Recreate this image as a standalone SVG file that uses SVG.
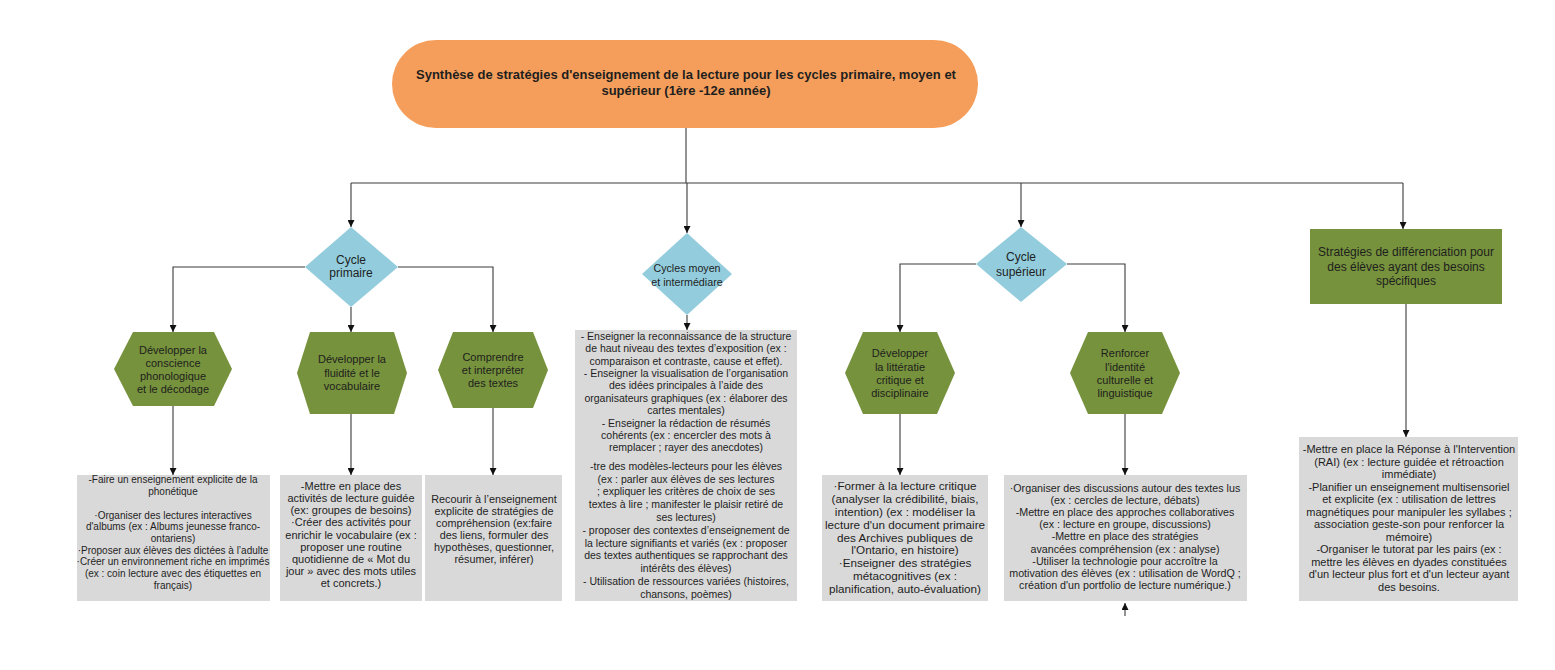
<svg xmlns="http://www.w3.org/2000/svg" width="1555" height="670" viewBox="0 0 1555 670">
<defs>
<style>
text{font-family:"Liberation Sans",Arial,sans-serif;fill:#1e1e1e;text-anchor:middle}
.title{font-size:13px;font-weight:bold}
.dia{fill:#93CDDD}
.hex{fill:#76923C}
.box{fill:#D9D9D9}
.conn{fill:none;stroke:#3a3a3a;stroke-width:1.1;marker-end:url(#arr)}
.line{fill:none;stroke:#3a3a3a;stroke-width:1.1}
</style>
<marker id="arr" markerUnits="userSpaceOnUse" markerWidth="7" markerHeight="7" refX="7" refY="3.5" orient="auto">
<path d="M0,0 L7,3.5 L0,7 z" fill="#111"/>
</marker>
</defs>
<rect width="1555" height="670" fill="#fff"/>

<g id="connectors">
<path class="line" d="M686,128 V183"/>
<path class="line" d="M351,183 H1403"/>
<path class="conn" d="M351,183 V227"/>
<path class="conn" d="M687,183 V233"/>
<path class="conn" d="M1021,183 V227"/>
<path class="conn" d="M1403,183 V229"/>
<path class="conn" d="M305,267 H173 V332"/>
<path class="conn" d="M351,307 V332"/>
<path class="conn" d="M398,267 H493 V332"/>
<path class="conn" d="M173,406 V475"/>
<path class="conn" d="M351,414 V475"/>
<path class="conn" d="M493,408 V475"/>
<path class="conn" d="M687,315 V330"/>
<path class="conn" d="M976,264 H900 V332"/>
<path class="conn" d="M1067,264 H1125 V332"/>
<path class="conn" d="M900,414 V475"/>
<path class="conn" d="M1125,414 V475"/>
<path class="conn" d="M1406,304 V437"/>
<path class="conn" d="M1125,616 V603"/>
</g>

<g id="title">
<rect x="392" y="40" width="586" height="88" rx="44" fill="#F59E5B"/>
<text class="title" x="686" y="79">Synthèse de stratégies d'enseignement de la lecture pour les cycles primaire, moyen et</text>
<text class="title" x="686" y="95">supérieur (1ère -12e année)</text>
</g>

<g id="cycle-primaire">
<polygon class="dia" points="351,227 398,267 351,307 305,267"/>
<text x="351" y="264" font-size="12">Cycle</text>
<text x="351" y="277" font-size="12">primaire</text>
</g>

<g id="cycles-moyen">
<polygon class="dia" points="687,233 732,274 687,315 642,274"/>
<text x="687" y="272" font-size="10.7">Cycles moyen</text>
<text x="687" y="286" font-size="10.7">et intermédiare</text>
</g>

<g id="cycle-superieur">
<polygon class="dia" points="1021,227 1067,264 1021,302 976,264"/>
<text x="1021" y="261" font-size="12">Cycle</text>
<text x="1021" y="276" font-size="12">supérieur</text>
</g>

<g id="differenciation">
<rect x="1310" y="229" width="192" height="75" fill="#76923C"/>
<text x="1406" y="256" font-size="12">Stratégies de différenciation pour</text>
<text x="1406" y="271" font-size="12">des élèves ayant des besoins</text>
<text x="1406" y="285" font-size="12">spécifiques</text>
</g>

<g id="hex-phono" font-size="11">
<polygon class="hex" points="133,332 214,332 232,369 214,406 133,406 114,369"/>
<text x="173" y="354">Développer la</text>
<text x="173" y="367">conscience</text>
<text x="173" y="380">phonologique</text>
<text x="173" y="393">et le décodage</text>
</g>

<g id="hex-fluidite" font-size="11">
<polygon class="hex" points="310,332 394,332 407,373 394,414 310,414 297,373"/>
<text x="352" y="363">Développer la</text>
<text x="352" y="376.5">fluidité et le</text>
<text x="352" y="390">vocabulaire</text>
</g>

<g id="hex-comprendre" font-size="11">
<polygon class="hex" points="453,332 533,332 548,370 533,408 453,408 438,370"/>
<text x="493" y="361">Comprendre</text>
<text x="493" y="374">et interpréter</text>
<text x="493" y="387">des textes</text>
</g>

<g id="hex-litteratie" font-size="11">
<polygon class="hex" points="863,332 937,332 955,373 937,414 863,414 845,373"/>
<text x="900" y="357">Développer</text>
<text x="900" y="370.5">la littératie</text>
<text x="900" y="384">critique et</text>
<text x="900" y="397">disciplinaire</text>
</g>

<g id="hex-identite" font-size="11">
<polygon class="hex" points="1088,332 1162,332 1180,373 1162,414 1088,414 1070,373"/>
<text x="1125" y="357">Renforcer</text>
<text x="1125" y="370.5">l'identité</text>
<text x="1125" y="384">culturelle et</text>
<text x="1125" y="397">linguistique</text>
</g>

<g id="box-phono" font-size="10">
<rect class="box" x="77" y="475" width="193" height="126"/>
<text x="173" y="483.4">-Faire un enseignement explicite de la</text>
<text x="173" y="495.1">phonétique</text>
<text x="173" y="518.5">·Organiser des lectures interactives</text>
<text x="173" y="530.2">d'albums (ex : Albums jeunesse franco-</text>
<text x="173" y="541.9">ontariens)</text>
<text x="173" y="553.6">·Proposer aux élèves des dictées à l’adulte</text>
<text x="173" y="565.3">·Créer un environnement riche en imprimés</text>
<text x="173" y="577">(ex : coin lecture avec des  étiquettes en</text>
<text x="173" y="588.7">français)</text>
</g>

<g id="box-fluidite" font-size="11">
<rect class="box" x="280" y="475" width="142" height="126"/>
<text x="351" y="490">-Mettre en place des</text>
<text x="351" y="502.15">activités de lecture guidée</text>
<text x="351" y="514.3">(ex: groupes de besoins)</text>
<text x="351" y="526.45">·Créer des activités pour</text>
<text x="351" y="538.6">enrichir le vocabulaire (ex :</text>
<text x="351" y="550.75">proposer une routine</text>
<text x="351" y="562.9">quotidienne de « Mot du</text>
<text x="351" y="575.05">jour » avec des mots utiles</text>
<text x="351" y="587.2">et concrets.)</text>
</g>

<g id="box-comprendre" font-size="10.8">
<rect class="box" x="425" y="475" width="137" height="126"/>
<text x="494" y="503">Recourir à l’enseignement</text>
<text x="494" y="515">explicite de stratégies de</text>
<text x="494" y="527">compréhension (ex:faire</text>
<text x="494" y="539">des liens, formuler des</text>
<text x="494" y="551">hypothèses, questionner,</text>
<text x="494" y="563">résumer, inférer)</text>
</g>

<g id="box-moyen" font-size="10.5">
<rect class="box" x="575" y="330" width="222" height="271"/>
<text x="686" y="339.7">- Enseigner la reconnaissance de la structure</text>
<text x="686" y="352.1">de haut niveau des textes d’exposition (ex :</text>
<text x="686" y="364.5">comparaison et contraste, cause et effet).</text>
<text x="686" y="376.9">- Enseigner la visualisation de l’organisation</text>
<text x="686" y="389.3">des idées principales à l’aide des</text>
<text x="686" y="401.7">organisateurs graphiques (ex : élaborer des</text>
<text x="686" y="414.1">cartes mentales)</text>
<text x="686" y="426.5">- Enseigner la rédaction de résumés</text>
<text x="686" y="438.9">cohérents (ex : encercler des mots à</text>
<text x="686" y="451.3">remplacer ; rayer des anecdotes)</text>
<text x="686" y="469.7">-tre des modèles-lecteurs pour les élèves</text>
<text x="686" y="482.5">(ex : parler aux élèves de ses lectures</text>
<text x="686" y="495.3">;  expliquer les critères de choix de ses</text>
<text x="686" y="508.1">textes à lire ; manifester le plaisir retiré de</text>
<text x="686" y="520.9">ses lectures)</text>
<text x="686" y="533.7">- proposer des contextes d’enseignement de</text>
<text x="686" y="546.5">la lecture signifiants et variés (ex : proposer</text>
<text x="686" y="559.3">des textes authentiques se rapprochant des</text>
<text x="686" y="572.1">intérêts des élèves)</text>
<text x="686" y="584.9">- Utilisation de ressources variées (histoires,</text>
<text x="686" y="597.7">chansons, poèmes)</text>
</g>

<g id="box-litteratie" font-size="11.7">
<rect class="box" x="822" y="475" width="166" height="126"/>
<text x="905" y="490">·Former à la lecture critique</text>
<text x="905" y="502.9">(analyser la crédibilité, biais,</text>
<text x="905" y="515.75">intention) (ex : modéliser la</text>
<text x="905" y="528.6">lecture d'un document primaire</text>
<text x="905" y="541.5">des Archives publiques de</text>
<text x="905" y="554.4">l'Ontario, en histoire)</text>
<text x="905" y="567.25">·Enseigner des stratégies</text>
<text x="905" y="580.1">métacognitives (ex :</text>
<text x="905" y="593">planification, auto-évaluation)</text>
</g>

<g id="box-identite" font-size="10.7">
<rect class="box" x="1004" y="475" width="243" height="126"/>
<text x="1125" y="492">·Organiser des discussions autour des textes lus</text>
<text x="1125" y="504.1">(ex : cercles de lecture, débats)</text>
<text x="1125" y="516.2">-Mettre en place des approches collaboratives</text>
<text x="1125" y="528.3">(ex : lecture en groupe, discussions)</text>
<text x="1125" y="540.4">-Mettre en place des stratégies</text>
<text x="1125" y="552.5">avancées compréhension (ex : analyse)</text>
<text x="1125" y="564.6">-Utiliser la technologie pour accroître la</text>
<text x="1125" y="576.7">motivation des élèves (ex : utilisation de WordQ ;</text>
<text x="1125" y="588.8">création d'un portfolio de lecture numérique.)</text>
</g>

<g id="box-differenciation" font-size="11">
<rect class="box" x="1299" y="437" width="219" height="164"/>
<text x="1409" y="453.2">-Mettre en place la Réponse à l'Intervention</text>
<text x="1409" y="465.7">(RAI) (ex : lecture guidée et rétroaction</text>
<text x="1409" y="478.2">immédiate)</text>
<text x="1409" y="490.7">-Planifier un enseignement multisensoriel</text>
<text x="1409" y="503.2">et explicite (ex : utilisation de lettres</text>
<text x="1409" y="515.7">magnétiques pour manipuler les syllabes ;</text>
<text x="1409" y="528.2">association geste-son pour renforcer la</text>
<text x="1409" y="540.7">mémoire)</text>
<text x="1409" y="553.2">-Organiser le tutorat par les pairs (ex :</text>
<text x="1409" y="565.7">mettre les élèves en dyades constituées</text>
<text x="1409" y="578.2">d'un lecteur plus fort et d'un lecteur ayant</text>
<text x="1409" y="590.7">des besoins.</text>
</g>
</svg>
